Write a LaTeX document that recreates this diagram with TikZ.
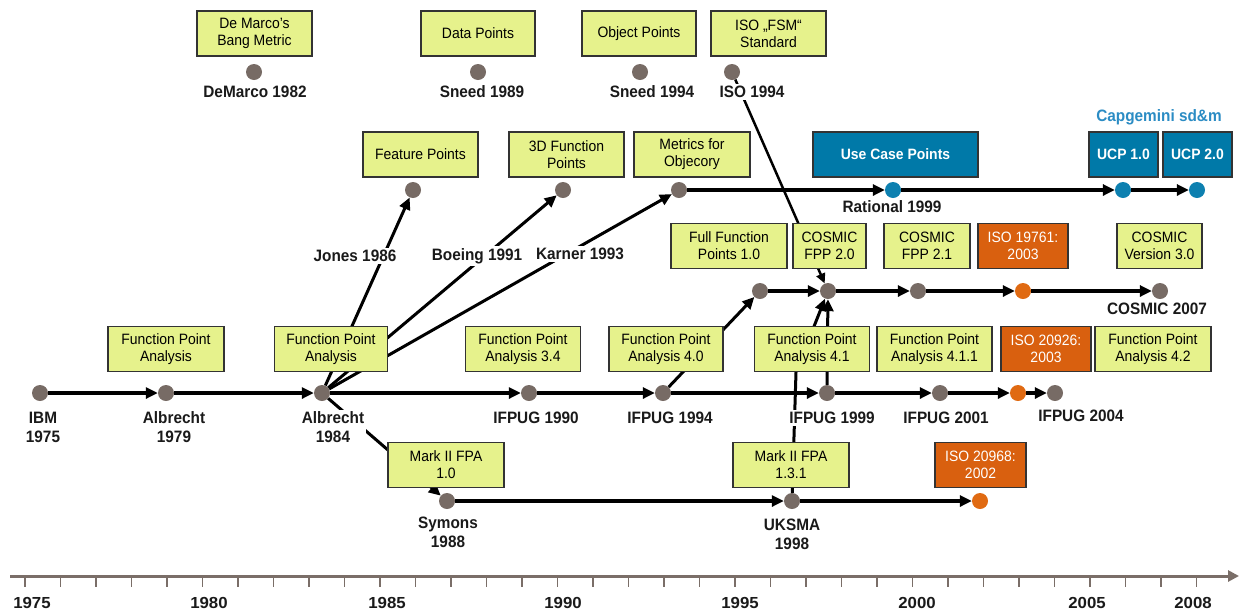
\documentclass[tikz,border=0pt]{standalone}
\usepackage{fontspec}
\setmainfont{Liberation Sans}[FakeStretch=0.93]
\newfontfamily\axisfont{Liberation Sans}[FakeStretch=1.05]
\usetikzlibrary{arrows.meta}
\definecolor{boxyellow}{HTML}{E6F28C}
\definecolor{boxblue}{HTML}{0079A8}
\definecolor{boxorange}{HTML}{D9600F}
\definecolor{dotgray}{HTML}{776B65}
\definecolor{dotblue}{HTML}{0D80B0}
\definecolor{dotorange}{HTML}{E06A12}
\definecolor{axisgray}{HTML}{7A6E68}
\definecolor{capblue}{HTML}{2B8CC4}
\definecolor{labeltext}{HTML}{1A1A1A}
\begin{document}
\begin{tikzpicture}[x=1pt,y=-1pt,
  dot/.style={circle,fill=dotgray,minimum size=16pt,inner sep=0pt},
  bdot/.style={dot,fill=dotblue},
  odot/.style={dot,fill=dotorange},
  ybox/.style={draw=black!80,line width=1.2pt,fill=boxyellow,minimum height=45pt,align=center,font=\fontsize{15}{17}\selectfont,inner sep=0pt,text=black},
  bbox/.style={ybox,fill=boxblue,text=white,font=\fontsize{15}{17}\selectfont\bfseries},
  obox/.style={ybox,fill=boxorange,text=white},
  lbl/.style={font=\fontsize{16.5}{19}\selectfont\bfseries,align=center,text=labeltext,fill=white,inner sep=2pt},
  conn/.style={line width=3.5pt,-{Triangle[length=12pt,width=11pt]}},
  thinconn/.style={line width=3pt,-{Triangle[length=12pt,width=11pt]}},
  isoconn/.style={line width=2.5pt,-{Triangle[length=10pt,width=9pt]}},
  axislbl/.style={font=\axisfont\fontsize{16}{18}\selectfont\bfseries,text=labeltext},
  tickline/.style={axisgray,line width=1.8pt}
]
\useasboundingbox (0,0) rectangle (1241,614);

% ---------- axis ----------
\coordinate (axs) at (10,576);
\coordinate (axe) at (1239,576);
\draw[axisgray,line width=3pt,-{Triangle[length=11pt,width=11pt]}] (axs) -- (axe);
\foreach \i in {0,...,33} \draw[tickline] ({25+35.5*\i},576) -- ({25+35.5*\i},587);
\node[axislbl] (y1975) at (32,603) {1975};
\node[axislbl] (y1980) at (209,603) {1980};
\node[axislbl] (y1985) at (387,603) {1985};
\node[axislbl] (y1990) at (563,603) {1990};
\node[axislbl] (y1995) at (740,603) {1995};
\node[axislbl] (y2000) at (917,603) {2000};
\node[axislbl] (y2005) at (1087,603) {2005};
\node[axislbl] (y2008) at (1193,603) {2008};

% ---------- dots ----------
% top row
\node[dot] (demarco) at (254,72) {};
\node[dot] (sneed89) at (478,72) {};
\node[dot] (sneed94) at (640,72) {};
\node[dot] (iso94) at (732,72) {};
% second row
\node[dot] (jones) at (413,190) {};
\node[dot] (boeing) at (563,190) {};
\node[dot] (karner) at (679,190) {};
\node[bdot] (rational) at (893,190) {};
\node[bdot] (ucp1) at (1123,190) {};
\node[bdot] (ucp2) at (1197,190) {};
% third row
\node[dot] (ffp) at (760,291) {};
\node[dot] (cosmic20) at (828,291) {};
\node[dot] (cosmic21) at (918,291) {};
\node[odot] (iso19761) at (1023,291) {};
\node[dot] (cosmic07) at (1160,291) {};
% main row
\node[dot] (ibm) at (40,393) {};
\node[dot] (alb79) at (166,393) {};
\node[dot] (alb84) at (322,393) {};
\node[dot] (ifp90) at (529,393) {};
\node[dot] (ifp94) at (663,393) {};
\node[dot] (ifp99) at (827,393) {};
\node[dot] (ifp01) at (940,393) {};
\node[odot] (iso20926) at (1018,393) {};
\node[dot] (ifp04) at (1055,393) {};
% bottom row
\node[dot] (symons) at (447,501) {};
\node[dot] (uksma) at (792,501) {};
\node[odot] (iso20968) at (980,501) {};

% ---------- connectors ----------
\draw[conn] (karner) -- (rational);
\draw[conn] (rational) -- (ucp1);
\draw[conn] (ucp1) -- (ucp2);

\draw[conn] (ffp) -- (cosmic20);
\draw[conn] (cosmic20) -- (cosmic21);
\draw[conn] (cosmic21) -- (iso19761);
\draw[conn] (iso19761) -- (cosmic07);

\draw[conn] (ibm) -- (alb79);
\draw[conn] (alb79) -- (alb84);
\draw[conn] (alb84) -- (ifp90);
\draw[conn] (ifp90) -- (ifp94);
\draw[conn] (ifp94) -- (ifp99);
\draw[conn] (ifp99) -- (ifp01);
\draw[conn] (ifp01) -- (iso20926);
\draw[conn] (iso20926) -- (ifp04);

\draw[conn] (symons) -- (uksma);
\draw[conn] (uksma) -- (iso20968);

\draw[thinconn] (alb84) -- (jones);
\draw[thinconn] (alb84) -- (boeing);
\draw[thinconn] (alb84) -- (karner);
\draw[thinconn] (alb84) -- (symons);
\draw[thinconn] (ifp94) -- (ffp);
\draw[thinconn] (ifp99) -- (cosmic20);
\coordinate (bend) at (796,372);
\draw[thinconn] (uksma) -- (bend) -- (cosmic20);
\draw[isoconn] (iso94) -- (cosmic20);

% ---------- boxes ----------
\node[ybox,minimum width=115pt] (bdemarco) at (254.5,33.5) {De Marco's\\Bang Metric};
\node[ybox,minimum width=114pt] (bdata) at (478,33.5) {Data Points};
\node[ybox,minimum width=114pt] (bobject) at (639,33.5) {Object Points};
\node[ybox,minimum width=115pt] (bisofsm) at (768.5,33.5) {ISO „FSM“\\Standard};

\node[ybox,minimum width=115pt] (bfeature) at (420.5,154.5) {Feature Points};
\node[ybox,minimum width=115pt] (b3d) at (566.5,154.5) {3D Function\\Points};
\node[ybox,minimum width=116pt] (bmetrics) at (692,154.5) {Metrics for\\Objecory};
\node[bbox,minimum width=165pt] (bucp) at (895.5,154.5) {Use Case Points};
\node[bbox,minimum width=69pt] (bucp1) at (1123.5,154.5) {UCP 1.0};
\node[bbox,minimum width=69pt] (bucp2) at (1197.5,154.5) {UCP 2.0};

\node[ybox,minimum width=116pt] (bffp) at (729,246) {Full Function\\Points 1.0};
\node[ybox,minimum width=73pt] (bcos20) at (829.5,246) {COSMIC\\FPP 2.0};
\node[ybox,minimum width=86pt] (bcos21) at (927,246) {COSMIC\\FPP 2.1};
\node[obox,minimum width=90pt] (biso19761) at (1023,246) {ISO 19761:\\2003};
\node[ybox,minimum width=85pt] (bcos30) at (1159.5,246) {COSMIC\\Version 3.0};

\node[ybox,minimum width=116pt] (bfpa79) at (166,349) {Function Point\\Analysis};
\node[ybox,minimum width=113pt] (bfpa84) at (331,349) {Function Point\\Analysis};
\node[ybox,minimum width=115pt] (bfpa34) at (523,349) {Function Point\\Analysis 3.4};
\node[ybox,minimum width=114pt] (bfpa40) at (666,349) {Function Point\\Analysis 4.0};
\node[ybox,minimum width=115pt] (bfpa41) at (812,349) {Function Point\\Analysis 4.1};
\node[ybox,minimum width=115pt] (bfpa411) at (934.5,349) {Function Point\\Analysis 4.1.1};
\node[obox,minimum width=90pt] (biso20926) at (1046,349) {ISO 20926:\\2003};
\node[ybox,minimum width=116pt] (bfpa42) at (1153,349) {Function Point\\Analysis 4.2};

\node[ybox,minimum width=116pt] (bmk10) at (446,465) {Mark II FPA\\1.0};
\node[ybox,minimum width=116pt] (bmk131) at (791,465) {Mark II FPA\\1.3.1};
\node[obox,minimum width=91pt] (biso20968) at (980.5,465) {ISO 20968:\\2002};

% ---------- labels ----------
\node[lbl] (ldemarco) at (255,92) {DeMarco 1982};
\node[lbl] (lsneed89) at (482,92) {Sneed 1989};
\node[lbl] (lsneed94) at (652,92) {Sneed 1994};
\node[lbl] (liso94) at (752,92) {ISO 1994};
\node[lbl,text=capblue] (lcap) at (1159,117) {Capgemini sd\&m};
\node[lbl] (lrational) at (892,207) {Rational 1999};
\node[lbl] (ljones) at (355,256) {Jones 1986};
\node[lbl] (lboeing) at (477,256) {Boeing 1991};
\node[lbl] (lkarner) at (580,254) {Karner 1993};
\node[lbl] (lcosmic07) at (1157,309) {COSMIC 2007};
\node[lbl] (libm) at (43,427.5) {IBM\\1975};
\node[lbl] (lalb79) at (174,427.5) {Albrecht\\1979};
\node[lbl] (lalb84) at (333,427.5) {Albrecht\\1984};
\node[lbl] (lifp90) at (536,418) {IFPUG 1990};
\node[lbl] (lifp94) at (670,418) {IFPUG 1994};
\node[lbl] (lifp99) at (832,418) {IFPUG 1999};
\node[lbl] (lifp01) at (946,418) {IFPUG 2001};
\node[lbl] (lifp04) at (1081,416) {IFPUG 2004};
\node[lbl] (lsymons) at (448,532.5) {Symons\\1988};
\node[lbl] (luksma) at (792,534.5) {UKSMA\\1998};
\end{tikzpicture}
\end{document}
